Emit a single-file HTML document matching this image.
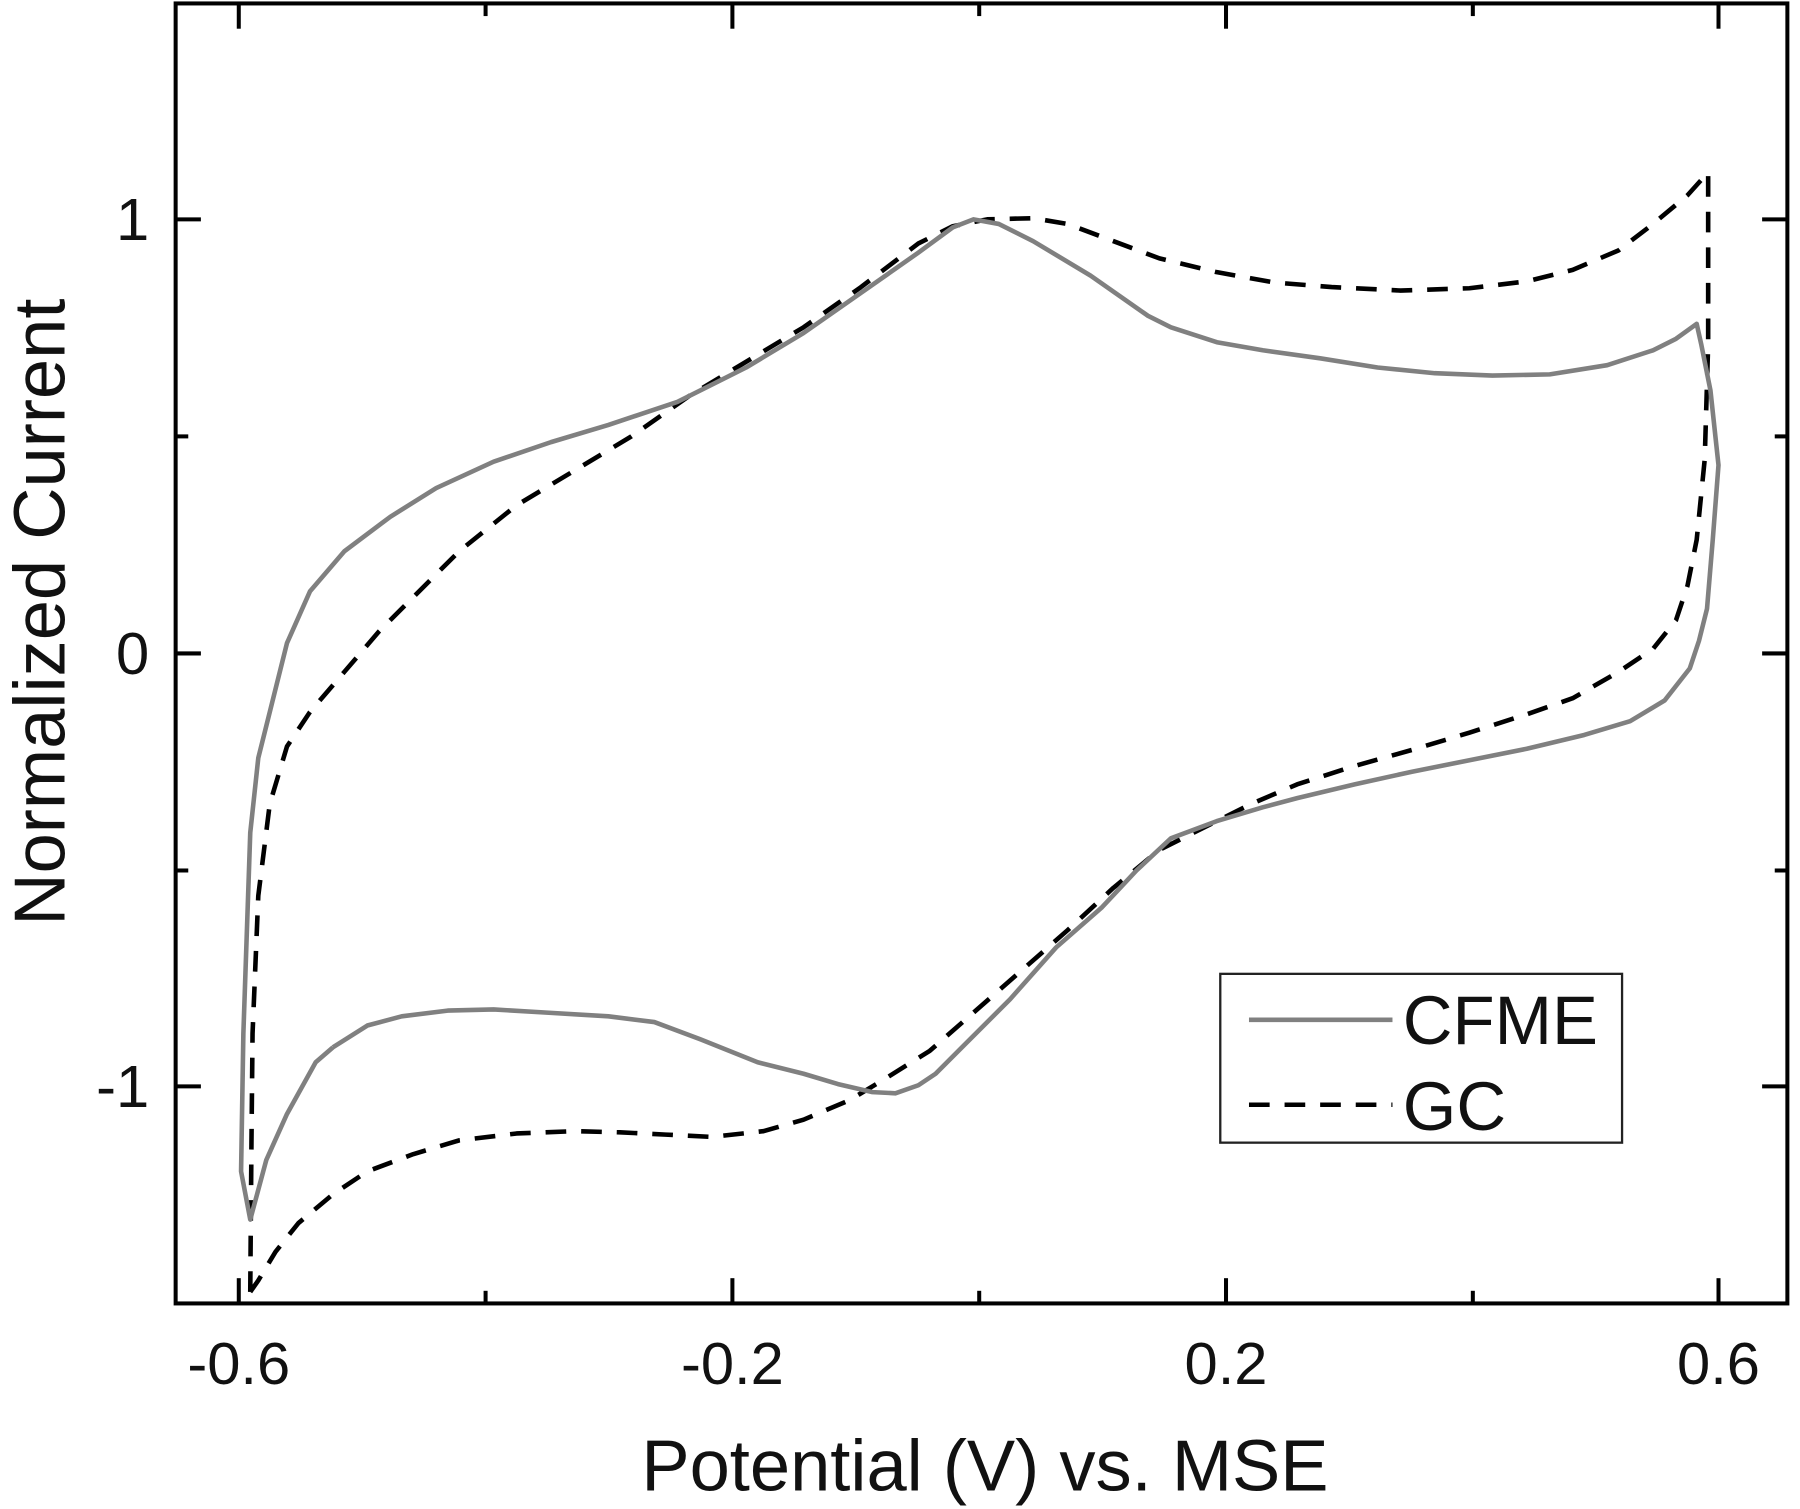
<!DOCTYPE html>
<html><head><meta charset="utf-8"><style>
html,body{margin:0;padding:0;background:#fff;}
svg{display:block;}
text{font-family:"Liberation Sans",Arial,sans-serif;fill:#111;}
</style></head><body>
<svg width="1800" height="1509" viewBox="0 0 1568 1314" preserveAspectRatio="none" xmlns="http://www.w3.org/2000/svg">
<rect x="0" y="0" width="1568" height="1314" fill="#fff"/>
<rect x="153" y="3" width="1404" height="1132" fill="none" stroke="#000" stroke-width="3.5"/>
<g stroke="#000" stroke-width="3.5">
<line x1="208" y1="1135" x2="208" y2="1113"/><line x1="638" y1="1135" x2="638" y2="1113"/><line x1="1068" y1="1135" x2="1068" y2="1113"/><line x1="1497" y1="1135" x2="1497" y2="1113"/>
<line x1="423" y1="1135" x2="423" y2="1124"/><line x1="853" y1="1135" x2="853" y2="1124"/><line x1="1283" y1="1135" x2="1283" y2="1124"/>
<line x1="208" y1="3" x2="208" y2="25"/><line x1="638" y1="3" x2="638" y2="25"/><line x1="1068" y1="3" x2="1068" y2="25"/><line x1="1497" y1="3" x2="1497" y2="25"/>
<line x1="423" y1="3" x2="423" y2="14"/><line x1="853" y1="3" x2="853" y2="14"/><line x1="1283" y1="3" x2="1283" y2="14"/>
<line x1="153" y1="191" x2="175" y2="191"/><line x1="153" y1="569" x2="175" y2="569"/><line x1="153" y1="946" x2="175" y2="946"/>
<line x1="153" y1="380" x2="164" y2="380"/><line x1="153" y1="758" x2="164" y2="758"/>
<line x1="1557" y1="191" x2="1535" y2="191"/><line x1="1557" y1="569" x2="1535" y2="569"/><line x1="1557" y1="946" x2="1535" y2="946"/>
<line x1="1557" y1="380" x2="1546" y2="380"/><line x1="1557" y1="758" x2="1546" y2="758"/>
</g>
<g font-size="52" text-anchor="end">
<text x="130" y="209">1</text><text x="130" y="587">0</text><text x="130" y="964">-1</text>
</g>
<g font-size="52" text-anchor="middle">
<text x="208" y="1205">-0.6</text><text x="638" y="1205">-0.2</text><text x="1068" y="1205">0.2</text><text x="1497" y="1205">0.6</text>
</g>
<text x="858" y="1298" font-size="63" text-anchor="middle">Potential (V) vs. MSE</text>
<text transform="translate(56,533) rotate(-90)" font-size="63" text-anchor="middle">Normalized Current</text>

<polyline fill="none" stroke="#000" stroke-width="4" stroke-dasharray="18,13" stroke-linejoin="round" points="218,1125 219,1000 220,900 225,780 235,700 250,650 270,620 300,585 330,550 360,520 400,480 450,440 500,410 550,380 600,345 650,315 700,285 750,250 800,212 830,197 860,191 900,190 930,195 970,210 1010,225 1060,237 1110,246 1160,250 1220,253 1280,251 1330,245 1370,235 1410,218 1440,195 1470,170 1488,150 1488,300 1485,400 1478,470 1470,510 1460,540 1440,565 1410,585 1370,608 1330,622 1280,638 1230,653 1180,667 1130,683 1090,700 1050,720 1010,740 970,773 930,810 890,845 850,880 810,915 770,940 740,958 700,975 665,985 620,990 580,988 540,986 500,985 450,987 400,993 360,1005 320,1020 290,1040 260,1065 240,1090 225,1115 218,1125"/>

<polyline fill="none" stroke="#808080" stroke-width="4" stroke-linejoin="round" points="290,912 275,925 250,970 232,1010 218,1062 210,1020 212,900 218,725 225,660 235,620 250,560 270,515 300,480 340,450 380,425 430,402 480,385 530,370 590,350 650,320 700,290 750,255 800,220 830,198 848,191 870,195 900,210 950,240 1000,275 1020,285 1060,298 1100,305 1150,312 1200,320 1250,325 1300,327 1350,326 1400,318 1440,305 1460,295 1478,282 1482,300 1490,340 1497,405 1492,470 1487,530 1480,558 1472,582 1450,610 1420,628 1380,640 1330,652 1280,662 1230,672 1180,683 1130,695 1100,703 1060,715 1020,730 990,758 960,790 920,825 880,870 840,910 815,935 800,945 780,952 760,951 730,944 700,935 660,925 610,905 570,890 530,885 480,882 430,879 390,880 350,885 320,893 290,912"/>

<rect x="1063" y="848" width="350" height="147" fill="#fff" stroke="#222" stroke-width="2"/>
<line x1="1088" y1="888" x2="1213" y2="888" stroke="#808080" stroke-width="4"/>
<text x="1222" y="909" font-size="60">CFME</text>
<line x1="1088" y1="962" x2="1213" y2="962" stroke="#000" stroke-width="4" stroke-dasharray="18,13"/>
<text x="1222" y="984" font-size="60">GC</text>
</svg>
</body></html>
